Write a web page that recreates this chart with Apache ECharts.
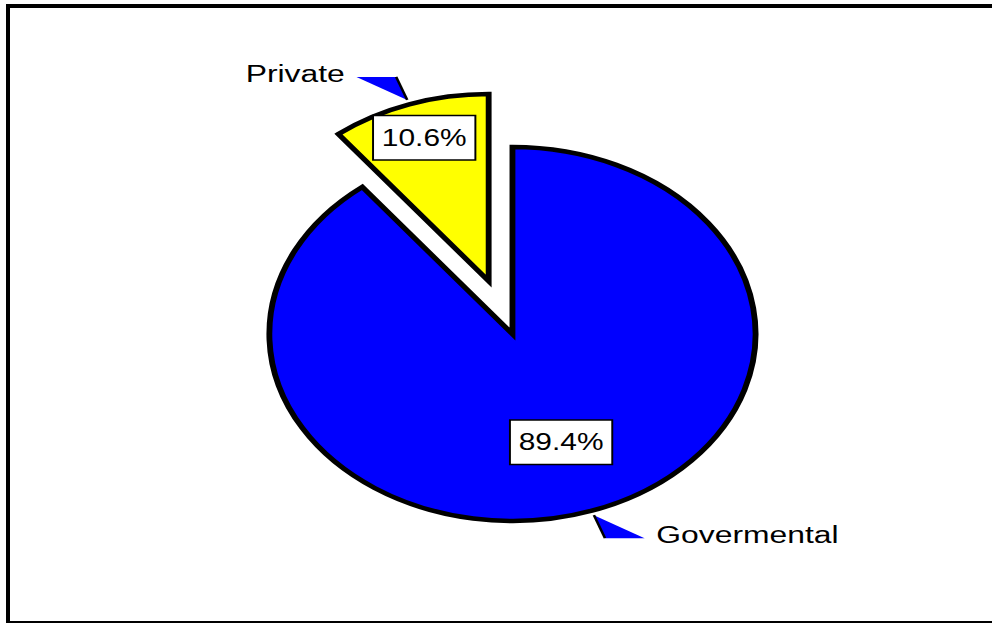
<!DOCTYPE html>
<html><head><meta charset="utf-8">
<script src="https://cdn.jsdelivr.net/npm/echarts@6/dist/echarts.min.js"></script>
<style>
html,body{margin:0;padding:0;background:#fff;overflow:hidden;width:992px;height:623px;}
#frame{position:absolute;left:6px;top:4px;width:1000px;height:613px;border:4px solid #000;box-sizing:content-box;}
#chart{position:absolute;left:0;top:0;width:763px;height:623px;transform:scaleX(1.3);transform-origin:0 0;}
</style></head>
<body><div id="frame"></div><div id="chart"></div>
<script>
// Data
const categories = ['Govermental', 'Private'];
const shares = [89.4, 10.6];
const sliceColors = ['#0000FF', '#FFFF00'];
const explodedIndex = 1;

// Geometry (unstretched chart coordinates; the page stretches horizontally by 1.3)
const CX = 394.2, CY = 334, R = 187, OFFSET = 56;
const FONT = "'Liberation Sans', Arial, sans-serif";

const chart = echarts.init(document.getElementById('chart'), null, {renderer: 'svg'});

function pieData() {
  return categories.map((c, i) => ({
    name: c, value: shares[i], selected: i === explodedIndex,
    itemStyle: {color: sliceColors[i]}
  }));
}

const boxLabel = {
  position: 'inside',
  formatter: p => p.value.toFixed(1) + '%',
  fontFamily: FONT, fontSize: 23, lineHeight: 23, color: '#000',
  backgroundColor: '#fff', borderColor: '#000', borderWidth: 1.5,
  padding: [10, 6, 10, 6]
};

function labelSeries(idx, radius) {
  return {
    type: 'pie', center: [CX, CY], radius: [0, radius], startAngle: 90, clockwise: true,
    silent: true, animation: false, selectedMode: 'single', selectedOffset: OFFSET,
    avoidLabelOverlap: false, z: 4,
    itemStyle: {color: 'rgba(0,0,0,0)', borderWidth: 0, opacity: 1},
    label: Object.assign({show: true}, boxLabel),
    labelLine: {show: false},
    emphasis: {disabled: true},
    data: categories.map((c, i) => ({
      name: c, value: shares[i], selected: i === explodedIndex,
      itemStyle: {color: 'rgba(0,0,0,0)'},
      label: {show: i === idx}
    }))
  };
}

const option = {
  animation: false,
  backgroundColor: 'transparent',
  series: [
    {
      type: 'pie', center: [CX, CY], radius: [0, R], startAngle: 90, clockwise: true,
      silent: true, animation: false, selectedMode: 'single', selectedOffset: OFFSET,
      avoidLabelOverlap: false, z: 2,
      label: {show: false}, labelLine: {show: false},
      itemStyle: {borderColor: '#000', borderWidth: 4.5, borderJoin: 'miter'},
      emphasis: {disabled: true},
      data: pieData()
    },
    labelSeries(0, 2 * 0.596 * R),
    labelSeries(1, 2 * 0.795 * R),
    {
      type: 'custom', coordinateSystem: 'none', silent: true, animation: false, z: 5,
      data: shares,
      renderItem: function (params, api) {
        const i = params.dataIndex;
        const total = shares.reduce((a, b) => a + b, 0);
        let before = 0;
        for (let k = 0; k < i; k++) before += shares[k];
        const mid = (before + shares[i] / 2) / total * 2 * Math.PI;
        const sx = Math.sin(mid), sy = -Math.cos(mid);
        const off = i === explodedIndex ? OFFSET : 0;
        const ox = CX + sx * off, oy = CY + sy * off;
        const tx = ox + sx * R * 1.025, ty = oy + sy * R * 1.025;
        const side = sx >= 0 ? 1 : -1, vs = sy >= 0 ? 1 : -1;
        const by = ty + vs * 23;
        return {
          type: 'group', children: [
            {type: 'polygon', shape: {points: [[tx, ty], [tx + side * 8.5, by], [tx + side * 39, by]]},
             style: {fill: '#0000FF', stroke: null}},
            {type: 'line', shape: {x1: tx, y1: ty, x2: tx + side * 8.5, y2: by},
             style: {stroke: '#000', lineWidth: 2}},
            {type: 'text', x: tx + side * 48, y: by - 4,
             style: {text: categories[i], fill: '#000', fontFamily: FONT, fontSize: 24.5,
                     align: side > 0 ? 'left' : 'right', verticalAlign: 'middle'}}
          ]
        };
      }
    }
  ]
};
chart.setOption(option);
</script>
</body></html>
